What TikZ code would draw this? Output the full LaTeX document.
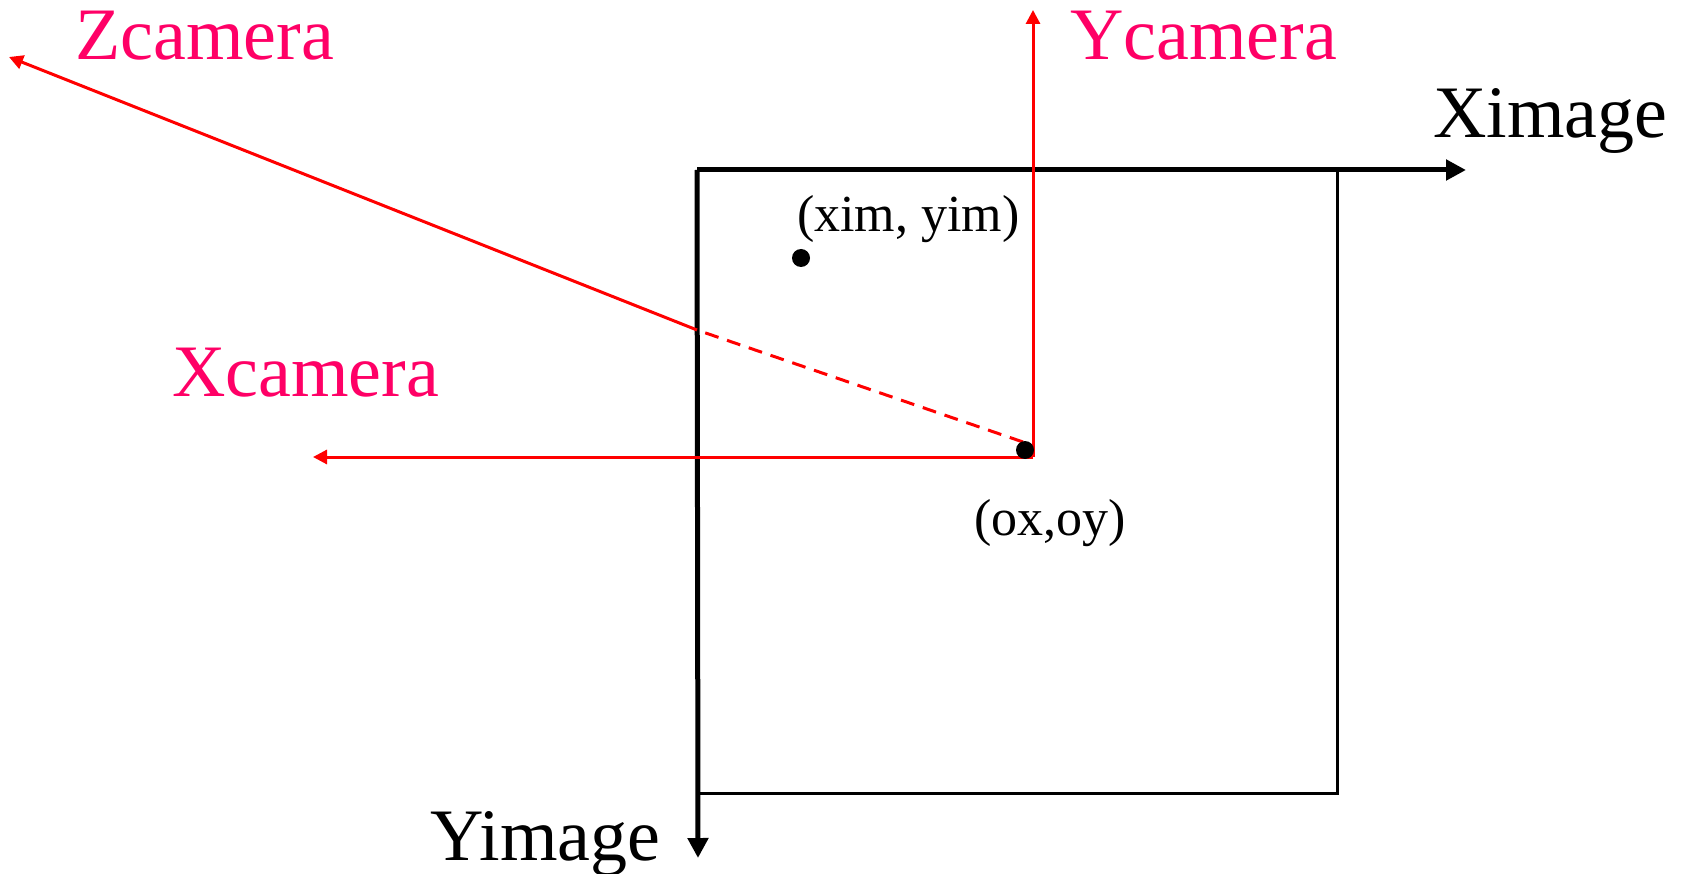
\documentclass[tikz,border=0pt]{standalone}
\usepackage{fontspec}
\setmainfont{Liberation Serif}
\usetikzlibrary{arrows.meta}
\definecolor{lblpink}{HTML}{FF0066}
\definecolor{axred}{HTML}{FF0000}
\begin{document}
\begin{tikzpicture}[x=1pt,y=-1pt,
  bigtxt/.style={anchor=base west,inner sep=0pt,font=\fontsize{74}{80}\selectfont},
  camtxt/.style={bigtxt,text=lblpink},
  smalltxt/.style={anchor=base west,inner sep=0pt,font=\fontsize{52}{58}\selectfont},
  imgaxis/.style={line width=5pt,-{Triangle[length=20pt,width=20pt]}},
  imgframe/.style={line width=3pt},
  camaxis/.style={axred,line width=3pt,-{Triangle[length=14pt,width=14pt]}},
  camline/.style={axred,line width=3pt},
  dotmark/.style={circle,fill=black,inner sep=0pt,minimum size=18pt}]
\useasboundingbox (0,0) rectangle (1683,874);
% image frame coordinates
\coordinate (tl) at (697,170);
\coordinate (xtip) at (1466,170);
\coordinate (ytip) at (698,858);
\coordinate (tr) at (1337,170);
\coordinate (br) at (1337,793);
\coordinate (bl) at (698,793);
% camera coordinates
\coordinate (O) at (1033,457);
\coordinate (yc) at (1033,10);
\coordinate (xc) at (313,457);
\coordinate (zs) at (1023,442);
\coordinate (zc) at (697,330);
\coordinate (zt) at (9,57);
% image axes
\draw[imgframe] (tr) -- (br) -- (bl);
\draw[imgaxis] (tl) -- (xtip);
\draw[imgaxis] (tl) -- (ytip);
% camera axes
\draw[camaxis] (O) -- (yc);
\draw[camaxis] (O) -- (xc);
\draw[camline,dashed,dash pattern=on 14pt off 9pt] (zs) -- (zc);
\draw[camaxis] (zc) -- (zt);
% dots
\node[dotmark] (od) at (1025,450) {};
\node[dotmark] (pd) at (801,258) {};
% labels
\node[camtxt] (zl) at (75,60) {Zcamera};
\node[camtxt] (yl) at (1070,60) {Ycamera};
\node[camtxt] (xl) at (172,396) {Xcamera};
\node[bigtxt] (xil) at (1433,138) {Ximage};
\node[bigtxt] (yil) at (430,860) {Yimage};
\node[smalltxt] (pl) at (797,232) {(xim, yim)};
\node[smalltxt] (ol) at (974,535) {(ox,oy)};
\end{tikzpicture}
\end{document}
